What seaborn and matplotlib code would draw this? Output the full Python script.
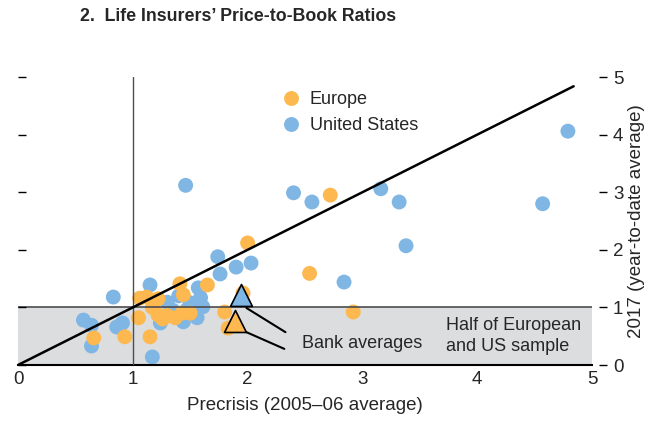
import pandas as pd
import matplotlib
matplotlib.use("Agg")
import matplotlib.pyplot as plt
import seaborn as sns

# Data
eu_x = [2.72, 2.00, 2.54, 2.92, 1.65, 1.41, 1.44, 1.96, 1.80, 1.50, 1.43, 1.26,
        1.12, 1.22, 1.06, 1.22, 1.30, 1.05, 1.15, 0.66, 0.93, 1.83, 1.37, 1.17]
eu_y = [2.95, 2.12, 1.59, 0.92, 1.39, 1.41, 1.22, 1.25, 0.92, 0.90, 0.90, 0.80,
        1.18, 1.15, 1.16, 0.87, 0.86, 0.82, 0.49, 0.47, 0.49, 0.64, 0.82, 1.00]

us_x = [4.79, 4.57, 1.46, 2.40, 2.56, 3.16, 3.32, 3.38, 2.84, 2.03, 1.90, 1.74,
        1.76, 0.83, 1.15, 1.30, 1.40, 1.57, 1.59, 1.61, 1.50, 1.44, 1.56, 1.24,
        1.17, 0.57, 0.64, 0.64, 0.86, 0.91, 1.35, 1.47]
us_y = [4.06, 2.80, 3.12, 2.99, 2.83, 3.06, 2.83, 2.07, 1.44, 1.77, 1.70, 1.88,
        1.58, 1.18, 1.39, 1.09, 1.20, 1.34, 1.17, 1.01, 1.08, 0.75, 0.82, 0.73,
        0.14, 0.78, 0.69, 0.33, 0.66, 0.73, 0.95, 0.96]

bank_x = [1.94, 1.89]   # US, Europe
bank_y = [1.21, 0.77]

diag = [0, 4.84]
ticks = [0, 1, 2, 3, 4, 5]

df = pd.concat([
    pd.DataFrame({"x": us_x, "y": us_y, "region": "United States"}),
    pd.DataFrame({"x": eu_x, "y": eu_y, "region": "Europe"}),
])

orange = "#FDB94F"
blue = "#7FB6E4"
grey = "#DCDDDF"
fs = 13

sns.set_style("white")
plt.rcParams["font.family"] = ["Liberation Sans Narrow", "Liberation Sans", "DejaVu Sans"]

fig = plt.figure(figsize=(6.5, 4.21), dpi=100)
ax = fig.add_axes([0.0277, 0.133, 0.8831, 0.684])

# left tick marks only (twin axis), made first so ax keeps its right ticks
ax2 = ax.twinx()
ax2.set_ylim(0, 5)
ax2.set_yticks(ticks)
ax2.yaxis.tick_left()
ax2.tick_params(axis="y", direction="in", length=6, width=1.0, labelleft=False,
                labelright=False, color="black")
for side in ax2.spines:
    ax2.spines[side].set_visible(False)

ax.axhspan(0, 1, color=grey, zorder=0, lw=0)
ax.axhline(1, color="#4d4d4d", lw=1.2, zorder=3)
ax.axvline(1, color="#4d4d4d", lw=1.0, zorder=3)

sns.scatterplot(data=df, x="x", y="y", hue="region",
                hue_order=["Europe", "United States"],
                palette={"Europe": orange, "United States": blue},
                s=115, linewidth=0, alpha=1, ax=ax, zorder=2)

ax.plot(diag, diag, color="black", lw=1.8, zorder=4)

# bank averages
ax.scatter(bank_x[:1], bank_y[:1], marker="^", s=250, color=blue,
           edgecolor="black", linewidth=1.2, zorder=6)
ax.scatter(bank_x[1:], bank_y[1:], marker="^", s=250, color=orange,
           edgecolor="black", linewidth=1.2, zorder=6)
ax.plot([1.99, 2.33], [0.99, 0.57], color="black", lw=1.5, zorder=5)
ax.plot([1.99, 2.32], [0.57, 0.28], color="black", lw=1.5, zorder=5)
ax.text(2.47, 0.37, "Bank averages", fontsize=fs, va="center", ha="left")
ax.text(3.73, 0.51, "Half of European\nand US sample", fontsize=fs,
        va="center", ha="left", linespacing=1.3)

ax.set_xlim(0, 5)
ax.set_ylim(0, 5)
ax.set_xticks(ticks)
ax.set_xlabel("Precrisis (2005\u201306 average)", fontsize=fs + 0.5, labelpad=7)

for side in ["top", "left", "right"]:
    ax.spines[side].set_visible(False)
ax.spines["bottom"].set_color("black")
ax.spines["bottom"].set_linewidth(1.5)
ax.spines["right"].set_position(("outward", 5))

ax.tick_params(axis="x", direction="in", length=5, width=1.2, labelsize=fs + 0.5,
               pad=4, color="black")
ax.yaxis.tick_right()
ax.yaxis.set_label_position("right")
ax.set_yticks(ticks)
ax.tick_params(axis="y", direction="out", length=6, width=1.0, labelsize=fs + 0.5,
               pad=4, color="black", labelleft=False, labelright=True)
ax.set_ylabel("2017 (year-to-date average)", fontsize=fs + 0.5, labelpad=3)

leg = ax.legend(loc="upper left", bbox_to_anchor=(0.445, 0.95), frameon=False,
                fontsize=fs, handletextpad=0.0, labelspacing=0.5,
                borderpad=0, borderaxespad=0, markerscale=1.0)

fig.text(0.123, 0.96, "2.  Life Insurers\u2019 Price-to-Book Ratios",
         fontsize=12.8, fontweight="bold", va="center", ha="left")

fig.savefig("out.png", dpi=100)
